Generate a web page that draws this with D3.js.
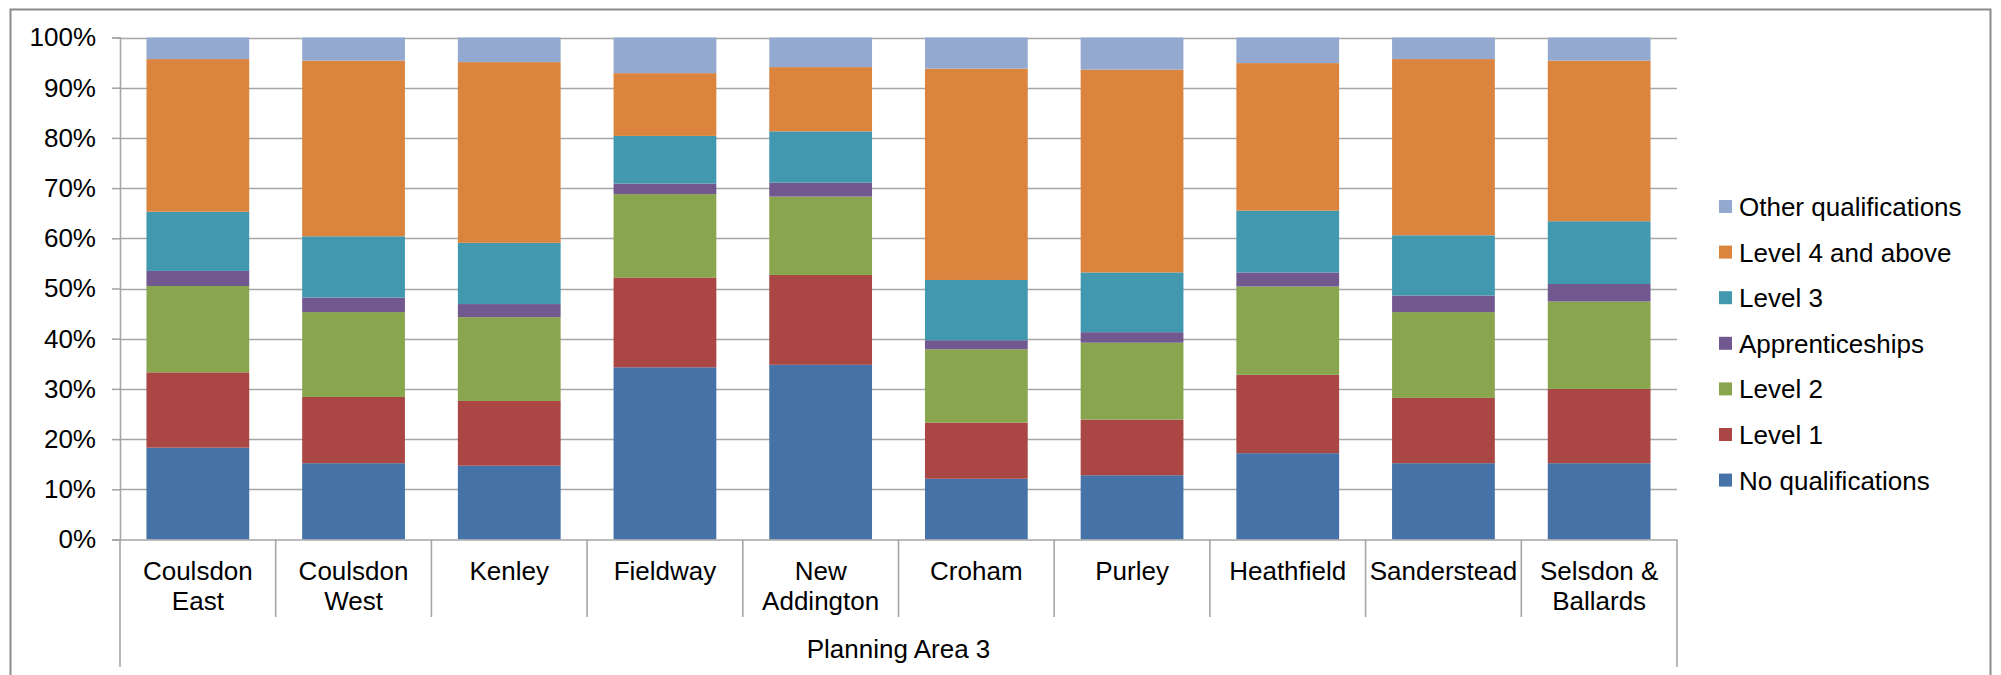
<!DOCTYPE html>
<html>
<head>
<meta charset="utf-8">
<script src="https://cdn.jsdelivr.net/npm/d3@7"></script>
<style>
  html, body { margin: 0; padding: 0; background: #fff; }
  svg { display: block; font-family: "Liberation Sans", Arial, sans-serif; }
</style>
</head>
<body>
<svg id="chart" width="2001" height="675"></svg>
<script>
const categories = ["Coulsdon East", "Coulsdon West", "Kenley", "Fieldway", "New Addington",
                    "Croham", "Purley", "Heathfield", "Sanderstead", "Selsdon & Ballards"];
const groupLabel = "Planning Area 3";
const seriesNames = ["No qualifications", "Level 1", "Level 2", "Apprenticeships",
                     "Level 3", "Level 4 and above", "Other qualifications"];
const noQualifications = [18.3, 15.2, 14.7, 34.3, 34.8, 12.1, 12.8, 17.2, 15.2, 15.2];
const level1           = [15.0, 13.2, 12.9, 17.9, 17.9, 11.2, 11.1, 15.6, 13.0, 14.8];
const level2           = [17.2, 16.9, 16.7, 16.6, 15.6, 14.6, 15.3, 17.6, 17.1, 17.4];
const apprenticeships  = [3.0, 2.9, 2.6, 2.1, 2.8, 1.8, 2.1, 2.8, 3.3, 3.5];
const level3           = [11.8, 12.2, 12.2, 9.5, 10.2, 12.0, 11.9, 12.3, 12.0, 12.5];
const level4           = [30.4, 35.0, 36.0, 12.5, 12.8, 42.1, 40.4, 29.4, 35.1, 32.0];
const otherQuals       = [4.3, 4.6, 4.9, 7.1, 5.9, 6.2, 6.4, 5.1, 4.3, 4.6];
const yTicks = [0, 0.1, 0.2, 0.3, 0.4, 0.5, 0.6, 0.7, 0.8, 0.9, 1.0];
const colors = ["#4572A7", "#AA4643", "#89A54E", "#71588F", "#4198AF", "#DB843D", "#93A9CF"];

const seriesValues = [noQualifications, level1, level2, apprenticeships, level3, level4, otherQuals];
const rows = categories.map((c, i) => {
  const r = { category: c };
  seriesNames.forEach((s, j) => r[s] = seriesValues[j][i]);
  return r;
});
const stack = d3.stack().keys(seriesNames).offset(d3.stackOffsetExpand);
const stacked = stack(rows);

const svg = d3.select("#chart");
const W = 2001, H = 675;
const plot = { left: 120, right: 1677, top: 37.5, bottom: 539.5 };
const fontSize = 26;

// outer chart border
svg.append("rect").attr("x", 10.5).attr("y", 9.5).attr("width", 1980).attr("height", 700)
  .attr("fill", "#fff").attr("stroke", "#8c8c8c").attr("stroke-width", 2);

const x = d3.scaleBand().domain(categories).range([plot.left, plot.right]).paddingInner(0.34).paddingOuter(0.17);
const xb = d3.scaleBand().domain(categories).range([plot.left, plot.right]);
const y = d3.scaleLinear().domain([0, 1]).range([plot.bottom, plot.top]);

// gridlines
svg.append("g").selectAll("line").data(yTicks.filter(t => t > 0)).join("line")
  .attr("x1", plot.left).attr("x2", plot.right)
  .attr("y1", d => Math.round(y(d)) + 0.5).attr("y2", d => Math.round(y(d)) + 0.5)
  .attr("stroke", "#a6a6a6").attr("stroke-width", 1.6);

// bars
svg.append("g").selectAll("g").data(stacked).join("g")
  .attr("fill", (d, i) => colors[i])
  .selectAll("rect").data(d => d).join("rect")
  .attr("x", d => x(d.data.category))
  .attr("width", x.bandwidth())
  .attr("y", d => y(d[1]))
  .attr("height", d => y(d[0]) - y(d[1]));

// y axis
const yAxis = d3.axisLeft(y).tickValues(yTicks).tickFormat(d3.format(".0%")).tickSizeOuter(0).tickSize(8).tickPadding(16);
const yg = svg.append("g").attr("transform", `translate(${plot.left},0)`).call(yAxis);
yg.select(".domain").attr("stroke", "#a6a6a6").attr("stroke-width", 1.6);
yg.selectAll(".tick line").attr("stroke", "#a6a6a6").attr("stroke-width", 1.6);
yg.selectAll(".tick text").attr("font-size", fontSize).attr("fill", "#000")
  .attr("font-family", "Liberation Sans, Arial, sans-serif");

// x axis line
svg.append("line").attr("x1", plot.left).attr("x2", plot.right)
  .attr("y1", plot.bottom + 0.5).attr("y2", plot.bottom + 0.5)
  .attr("stroke", "#a6a6a6").attr("stroke-width", 1.6);

// category dividers
const dividers = categories.map(c => xb(c)).concat([plot.right]);
svg.append("g").selectAll("line").data(dividers).join("line")
  .attr("x1", d => d).attr("x2", d => d)
  .attr("y1", plot.bottom)
  .attr("y2", (d, i) => (i === 0 || i === dividers.length - 1) ? 667 : 617)
  .attr("stroke", "#a6a6a6").attr("stroke-width", 1.6);

// category labels with wrapping
const catG = svg.append("g").attr("font-size", fontSize).attr("text-anchor", "middle").attr("fill", "#000");
categories.forEach(c => {
  const t = catG.append("text").attr("x", xb(c) + xb.bandwidth() / 2).attr("y", 580);
  const words = c.split(" ");
  let lines = [], cur = [];
  const tmp = svg.append("text").attr("font-size", fontSize).attr("visibility", "hidden");
  words.forEach(w => {
    const test = cur.concat([w]).join(" ");
    tmp.text(test);
    if (cur.length && tmp.node().getComputedTextLength() > xb.bandwidth() - 8) {
      lines.push(cur.join(" ")); cur = [w];
    } else cur.push(w);
  });
  lines.push(cur.join(" "));
  tmp.remove();
  lines.forEach((l, i) => t.append("tspan").attr("x", xb(c) + xb.bandwidth() / 2).attr("dy", i === 0 ? 0 : 30).text(l));
});

// group label
svg.append("text").attr("x", (plot.left + plot.right) / 2).attr("y", 658)
  .attr("text-anchor", "middle").attr("font-size", fontSize).attr("fill", "#000").text(groupLabel);

// legend (reverse order)
const legendItems = seriesNames.map((s, i) => ({ name: s, color: colors[i] })).reverse();
const lg = svg.append("g").attr("transform", "translate(1719,200)");
const li = lg.selectAll("g").data(legendItems).join("g")
  .attr("transform", (d, i) => `translate(0,${i * 45.6})`);
li.append("rect").attr("width", 13).attr("height", 13).attr("fill", d => d.color);
li.append("text").attr("x", 20).attr("y", 16).attr("font-size", fontSize).attr("fill", "#000").text(d => d.name);
</script>
</body>
</html>
